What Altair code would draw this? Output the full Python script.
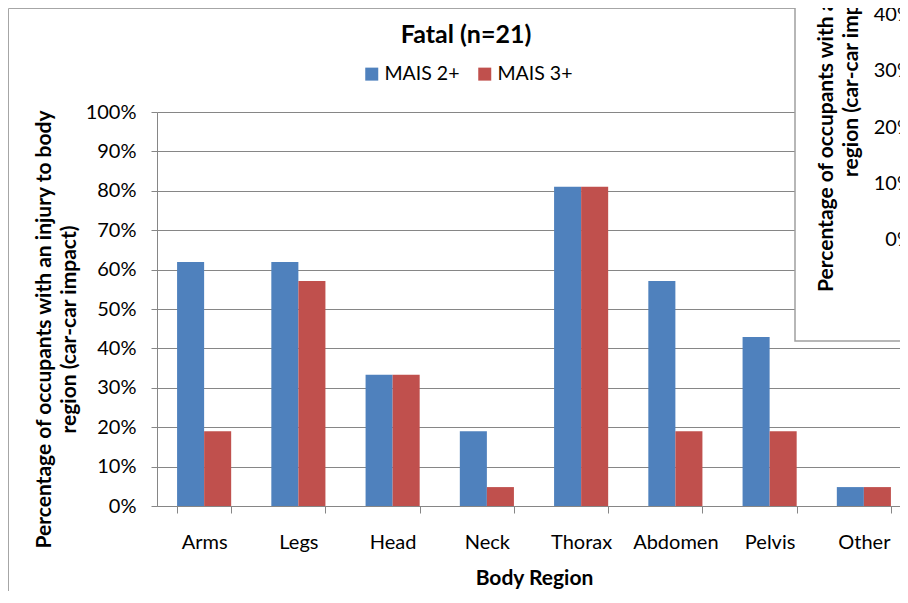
import altair as alt
import pandas as pd

regions = ["Arms", "Legs", "Head", "Neck", "Thorax", "Abdomen", "Pelvis", "Other"]
mais2 = [0.619, 0.619, 0.333, 0.190, 0.810, 0.571, 0.429, 0.048]
mais3 = [0.190, 0.571, 0.333, 0.048, 0.810, 0.190, 0.190, 0.048]
series = ["MAIS 2+", "MAIS 3+"]
colors = ["#4F81BD", "#C0504D"]
inset_ticks = [0.0, 0.1, 0.2, 0.3, 0.4]

rows = []
for r, a, b in zip(regions, mais2, mais3):
    rows.append({"Region": r, "Series": series[0], "Value": a})
    rows.append({"Region": r, "Series": series[1], "Value": b})
df = pd.DataFrame(rows)

FONT = "Lato"
GRAY = "#868686"

bars = alt.Chart(df).mark_bar().encode(
    x=alt.X("Region:N", sort=regions,
            scale=alt.Scale(paddingInner=0.426, paddingOuter=0.213, range=[0, 754]),
            axis=alt.Axis(title="Body Region", labelAngle=0, tickBand="extent",
                          tickSize=7, tickColor=GRAY, domainColor=GRAY,
                          labelFont=FONT, labelFontSize=20, labelColor="#000",
                          labelPadding=19, titleFont=FONT, titleFontSize=21,
                          titleFontWeight="bold", titleColor="#000", titlePadding=15,
                          titleX=377)),
    xOffset=alt.XOffset("Series:N", sort=series, scale=alt.Scale(paddingInner=0, paddingOuter=0)),
    y=alt.Y("Value:Q", scale=alt.Scale(domain=[0, 1]),
            axis=alt.Axis(format=".0%", values=[i / 10 for i in range(11)],
                          title=["Percentage of occupants with an injury to body",
                                 "region (car-car impact)"],
                          grid=True, gridColor=GRAY, domainColor=GRAY, tickColor=GRAY,
                          tickSize=6, labelFont=FONT, labelFontSize=20, labelColor="#000",
                          labelPadding=15, titleFont=FONT, titleFontSize=21,
                          titleFontWeight="bold", titleColor="#000", titlePadding=6,
                          titleLineHeight=25, titleY=217)),
    color=alt.Color("Series:N", sort=series,
                    scale=alt.Scale(domain=series, range=colors),
                    legend=alt.Legend(title=None, orient="none", legendX=205, legendY=-48,
                                      direction="horizontal", columns=2, symbolType="square",
                                      symbolSize=169, symbolStrokeWidth=0, labelFont=FONT,
                                      labelFontSize=19.5, labelColor="#000", labelOffset=3,
                                      columnPadding=15)),
)

border = alt.Chart(pd.DataFrame({"k": [0]})).mark_rect(
    fill=None, stroke="#a6a6a6", strokeWidth=1
).encode(x=alt.value(-148.5), x2=alt.value(780), y=alt.value(-103.5), y2=alt.value(520))

title = alt.Chart(pd.DataFrame({"t": ["Fatal (n=21)"]})).mark_text(
    font=FONT, fontSize=25, fontWeight="bold", color="#000", align="center", baseline="middle"
).encode(text="t:N", x=alt.value(309), y=alt.value(-77))

inset_box = alt.Chart(pd.DataFrame({"k": [0]})).mark_rect(
    fill="white", stroke="#a0a0a0", strokeWidth=1.5
).encode(x=alt.value(638), x2=alt.value(820), y=alt.value(-130), y2=alt.value(229))

inset_labels = alt.Chart(pd.DataFrame({"v": inset_ticks})).mark_text(
    font=FONT, fontSize=20, color="#000", align="right", baseline="middle"
).encode(
    text=alt.Text("v:Q", format=".0%"),
    x=alt.value(756),
    y=alt.Y("v:Q", scale=alt.Scale(domain=[0, 0.4], range=[128, -97]), axis=None),
)

inset_title = alt.Chart(pd.DataFrame({"t": ["Percentage of occupants with an injury to body\nregion (car-car impact)"]})).mark_text(
    font=FONT, fontSize=21, fontWeight="bold", color="#000", align="center",
    baseline="middle", angle=270, lineBreak="\n", lineHeight=25
).encode(text="t:N", x=alt.value(670), y=alt.value(-39))

chart = alt.layer(border, bars, inset_box, inset_labels, inset_title, title).resolve_scale(
    y="independent"
).properties(
    width=743, height=394,
    autosize=alt.AutoSizeParams(type="none"),
    padding={"left": 149, "top": 104, "right": 0, "bottom": 85},
).configure_view(stroke=None)

chart.save("out.html", embed_options={"renderer": "svg", "actions": False})
